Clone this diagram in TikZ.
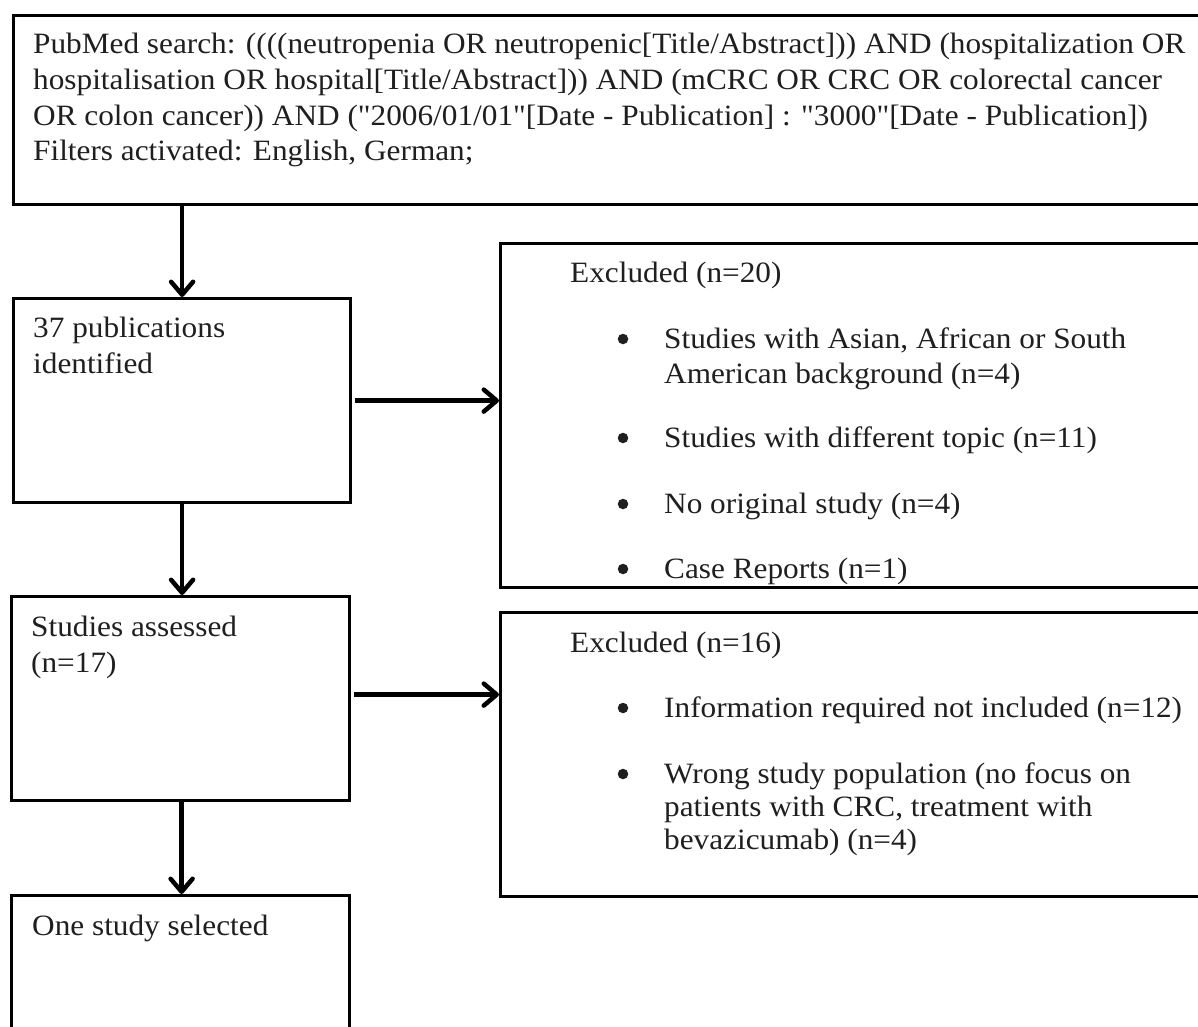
\documentclass[tikz,border=0pt]{standalone}
\usepackage{fontspec}
\setmainfont{Liberation Serif}[FakeStretch=1.06]
\newfontfamily\qfont{Liberation Serif}[FakeStretch=1.06]
\usetikzlibrary{arrows.meta}
\newcommand{\dq}{{\qfont"}}
\begin{document}
\begin{tikzpicture}[x=1pt,y=-1pt,
  box/.style={draw=black, line width=3.2pt, inner sep=0pt, anchor=north west, rectangle},
  txt/.style={anchor=base west, inner sep=0pt, text=black!88, font=\fontsize{29.5}{36}\selectfont},
  bul/.style={circle, fill=black!88, inner sep=0pt, minimum size=10.5pt},
  arr/.style={line width=4.5pt, -{Straight Barb[length=13pt,width=22pt,line cap=round,line join=round]}}]
\clip (0,0) rectangle (1198,1026);
\fill[white] (0,0) rectangle (1198,1026);
% boxes
\node[box, minimum width=1208pt, minimum height=189pt] (search) at (12,14) {};
\node[box, minimum width=337pt, minimum height=204pt] (pubs) at (12,297) {};
\node[box, minimum width=720pt, minimum height=344pt] (excl1) at (499,242) {};
\node[box, minimum width=338pt, minimum height=204pt] (assess) at (10,595) {};
\node[box, minimum width=720pt, minimum height=284pt] (excl2) at (499,611) {};
\node[box, minimum width=338pt, minimum height=160pt] (select) at (10,894) {};
% search text
\node[txt] (s1) at (33,53) {PubMed search: ((((neutropenia OR neutropenic[Title/Abstract])) AND (hospitalization OR};
\node[txt] (s2) at (33,89) {hospitalisation OR hospital[Title/Abstract])) AND (mCRC OR CRC OR colorectal cancer};
\node[txt] (s3) at (33,125) {OR colon cancer)) AND (\dq2006/01/01\dq[Date - Publication] : \dq3000\dq[Date - Publication])};
\node[txt] (s4) at (33,160) {Filters activated: English, German;};
% left column texts
\node[txt] (p1) at (33,337) {37 publications};
\node[txt] (p2) at (33,373) {identified};
\node[txt] (a1) at (31,636) {Studies assessed};
\node[txt] (a2) at (31,672) {(n=17)};
\node[txt] (o1) at (32,935) {One study selected};
% excluded 1
\begin{scope}
\clip (excl1.north west) rectangle ([yshift=1.6pt]excl1.south east);
\node[txt] (e1h) at (570,282) {Excluded (n=20)};
\node[bul] (e1b1) at (623,339) {};
\node[txt] (e1t1) at (664,348) {Studies with Asian, African or South};
\node[txt] (e1t1b) at (664,383) {American background (n=4)};
\node[bul] (e1b2) at (623,438) {};
\node[txt] (e1t2) at (664,447) {Studies with different topic (n=11)};
\node[bul] (e1b3) at (623,504) {};
\node[txt] (e1t3) at (664,513) {No original study (n=4)};
\node[bul] (e1b4) at (623,569) {};
\node[txt] (e1t4) at (664,578) {Case Reports (n=1)};
\end{scope}
% excluded 2
\node[txt] (e2h) at (570,652) {Excluded (n=16)};
\node[bul] (e2b1) at (623,708) {};
\node[txt] (e2t1) at (664,717) {Information required not included (n=12)};
\node[bul] (e2b2) at (623,774) {};
\node[txt] (e2t2) at (664,783) {Wrong study population (no focus on};
\node[txt] (e2t2b) at (664,816) {patients with CRC, treatment with};
\node[txt] (e2t2c) at (664,849) {bevazicumab) (n=4)};
% arrows
\coordinate (aout) at ([xshift=3pt,yshift=4pt]assess.east);
\draw[arr] (pubs.north |- search.south) -- (pubs.north);
\draw[arr] (pubs.south) -- (pubs.south |- assess.north);
\draw[arr] ([xshift=1pt]assess.south) -- ([xshift=1pt]assess.south |- select.north);
\draw[arr] ([xshift=3pt]pubs.east) -- (excl1.west |- pubs.east);
\draw[arr] (aout) -- (excl2.west |- aout);
\end{tikzpicture}
\end{document}
